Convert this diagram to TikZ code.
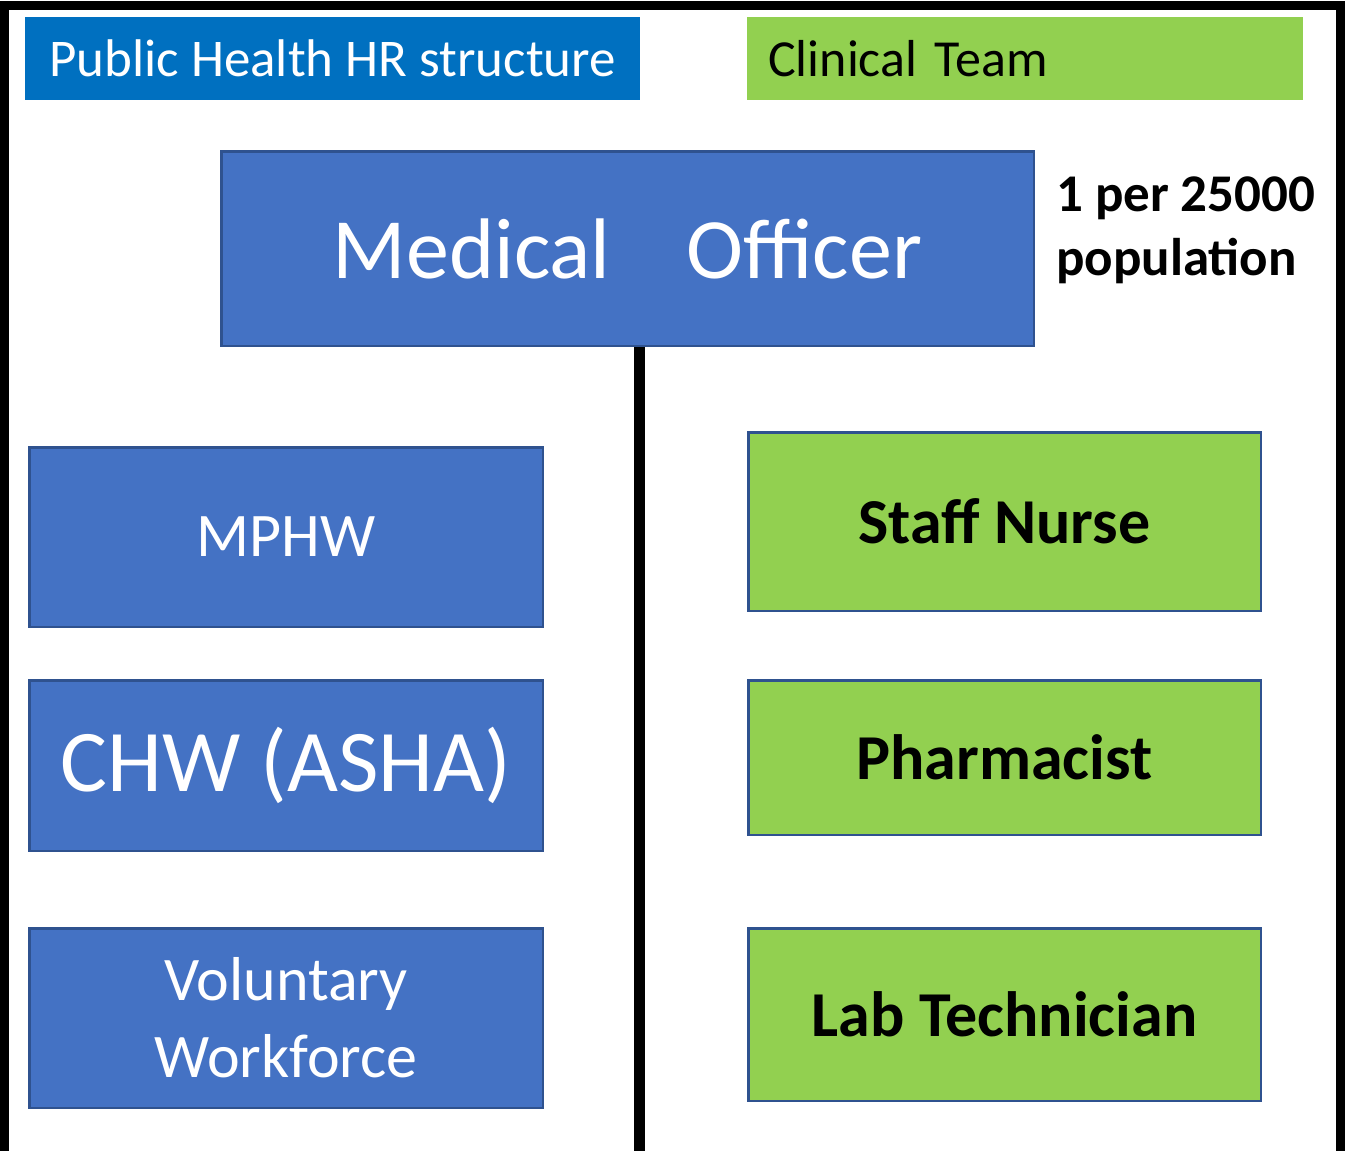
\documentclass[tikz,border=0pt]{standalone}
\usepackage{fontspec}
\setmainfont{Carlito}
\definecolor{hdrblue}{HTML}{0070C0}
\definecolor{hdrgreen}{HTML}{92D050}
\definecolor{boxblue}{HTML}{4472C4}
\definecolor{edgeblue}{HTML}{2F528F}
\newcommand{\fsz}[2]{\fontsize{#1}{#2}\selectfont}
\begin{document}
\begin{tikzpicture}[x=1pt,y=-1pt,
  header/.style={rectangle, inner sep=0pt, anchor=north west},
  rolebox/.style={rectangle, inner sep=0pt, anchor=north west, draw=edgeblue, line width=2.5pt},
  publicrole/.style={rolebox, fill=boxblue, text=white},
  clinicalrole/.style={rolebox, fill=hdrgreen, text=black, font=\bfseries\fsz{64}{76}},
  frame/.style={line width=9pt, miter limit=10}
]
\useasboundingbox (0,0) rectangle (1345,1151);

% outer frame, open at the bottom
\draw[frame] (4.5,1151) -- (4.5,5) -- (1340,5) -- (1340,1151);

% column headers
\node[header, fill=hdrblue, text=white, minimum width=615pt, minimum height=83pt,
      font=\fsz{53}{63}] (phhdr) at (25,17) {Public Health HR structure};
\node[header, fill=hdrgreen, text=black, minimum width=556pt, minimum height=83pt,
      text width=514pt, align=left, font=\fsz{52}{62}] (cthdr) at (747,17) {Clinical Team};

% top post
\node[rolebox, fill=boxblue, text=white, minimum width=812.5pt, minimum height=194.5pt,
      font=\fsz{86}{102}] (mo) at (220,150) {Medical\hspace{76pt}Officer};
\node[anchor=north west, inner sep=0pt, align=left, font=\bfseries\fsz{53}{64}]
      (ratio) at (1056,177) {1 per 25000\\population};

% public health workforce
\node[publicrole, minimum width=513.5pt, minimum height=179.5pt, font=\fsz{62}{74}]
      (mphw) at (28,446) {MPHW};
\node[publicrole, minimum width=513.5pt, minimum height=170.5pt, font=\fsz{88}{100}]
      (chw) at (28,679) {CHW (ASHA)};
\node[publicrole, minimum width=513.5pt, minimum height=179.5pt, align=center, font=\fsz{62}{77}]
      (vol) at (28,927) {Voluntary\\Workforce};

% clinical team
\node[clinicalrole, minimum width=512.5pt, minimum height=178.5pt] (nurse) at (747,431) {Staff Nurse};
\node[clinicalrole, minimum width=512.5pt, minimum height=154.5pt] (pharm) at (747,679) {Pharmacist};
\node[clinicalrole, minimum width=512.5pt, minimum height=172.5pt] (lab) at (747,927) {Lab Technician};

% dividing stem below the medical officer
\coordinate (stemend) at (639.5,1151);
\draw[line width=11pt] (mo.south -| stemend) -- (stemend);
\end{tikzpicture}
\end{document}
